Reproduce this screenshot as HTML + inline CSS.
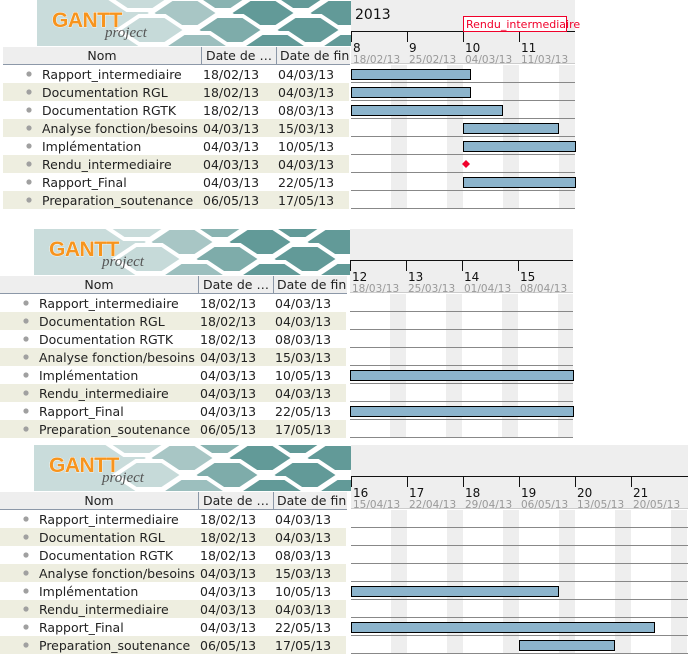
<!DOCTYPE html>
<html><head><meta charset="utf-8"><style>
html,body{margin:0;padding:0;background:#fff;}
svg{display:block;font-family:"DejaVu Sans","Liberation Sans",sans-serif;}
</style></head><body>
<svg id="chart" width="695" height="663" viewBox="0 0 695 663" xmlns="http://www.w3.org/2000/svg">
</svg>
<script>
const taskNames = ["Rapport_intermediaire","Documentation RGL","Documentation RGTK","Analyse fonction/besoins","Implémentation","Rendu_intermediaire","Rapport_Final","Preparation_soutenance"];
const startDates = ["18/02/13","18/02/13","18/02/13","04/03/13","04/03/13","04/03/13","04/03/13","06/05/13"];
const endDates = ["04/03/13","04/03/13","08/03/13","15/03/13","10/05/13","04/03/13","22/05/13","17/05/13"];
const milestones = [false,false,false,false,false,true,false,false];
const panelStarts = ["18/02/13","18/03/13","15/04/13"];
const weekNumbers = [[8,9,10,11],[12,13,14,15],[16,17,18,19,20,21]];
const weekLabels = [["18/02/13","25/02/13","04/03/13","11/03/13"],["18/03/13","25/03/13","01/04/13","08/04/13"],["15/04/13","22/04/13","29/04/13","06/05/13","13/05/13","20/05/13"]];

const NS="http://www.w3.org/2000/svg";
const svg=document.getElementById('chart');
function el(tag,attrs,parent,text){const e=document.createElementNS(NS,tag);for(const k in attrs)e.setAttribute(k,attrs[k]);if(text!==undefined)e.textContent=text;(parent||svg).appendChild(e);return e;}
function parse(s){const p=s.split('/');return Date.UTC(2000+ +p[2],+p[1]-1,+p[0]);}
function mix(a,b,t){const r=[0,1,2].map(i=>Math.round(a[i]+(b[i]-a[i])*t));return 'rgb('+r.join(',')+')';}
const DAY=8;
const panels=[{dy:0,tx:0,logoX:37,cx0:351,cx1:575,year:true},{dy:229,tx:-3,logoX:34,cx0:350,cx1:573},{dy:445,tx:-3,logoX:34,cx0:351,cx1:688}];

panels.forEach((P,pi)=>{
  const g=el('g',{});
  
  
  const dy=P.dy, tx=P.tx;
  const xDay=d=>P.cx0+((parse(d)-parse(panelStarts[pi]))/86400000)*DAY;
  const logo=el('g',{},g);
  
  
  el('rect',{x:P.logoX,y:dy,width:P.cx0-P.logoX,height:46,fill:'#c9dcdb'},logo);
  const clip=el('clipPath',{id:'lc'+pi},logo);
  el('rect',{x:P.logoX,y:dy,width:P.cx0-P.logoX,height:46},clip);
  const hg=el('g',{'clip-path':'url(#lc'+pi+')'},logo);
  const ox=P.logoX-37;
  el('rect',{x:150+ox,y:dy,width:P.cx0-150-ox,height:46,fill:'#fff'},hg);
  for(let r=0;r<4;r++){
    for(let c=0;c<6;c++){
      const cx=140+ox+c*78+(r%2?39:0)+r*6, cy=dy-4+r*17;
      const w=34,hh=14;
      const pts=[[cx-w,cy],[cx-w/2+4,cy-hh],[cx+w/2-4,cy-hh],[cx+w,cy],[cx+w/2-4,cy+hh],[cx-w/2+4,cy+hh]].map(p=>p.join(',')).join(' ');
      const t=Math.max(0,Math.min(1,(cx-150-ox)/110));
      el('polygon',{points:pts,fill:mix([200,219,218],[98,154,152],t),stroke:'#fff','stroke-width':4},hg);
    }
  }
  el('text',{x:P.logoX+15,y:dy+27,'font-size':21,'font-weight':'bold',fill:'#f7941d',stroke:'#fff','stroke-width':0.8,'paint-order':'stroke','font-family':'Liberation Sans, sans-serif','letter-spacing':'-0.5'},logo,'GANTT');
  el('text',{x:P.logoX+68,y:dy+37,'font-size':15,'font-style':'italic',fill:'#555','font-family':'Liberation Serif, serif'},logo,'project');
  const hy=dy+47;
  const hdr=el('g',{},g);
  
  
  el('rect',{x:3+tx,y:hy,width:347,height:17,fill:'#eeeeee'},hdr);
  el('line',{x1:3+tx,x2:350+tx,y1:hy+17.5,y2:hy+17.5,stroke:'#8c98a8'},hdr);
  el('line',{x1:201.5+tx,x2:201.5+tx,y1:hy,y2:hy+17,stroke:'#8c98a8'},hdr);
  el('line',{x1:276.5+tx,x2:276.5+tx,y1:hy,y2:hy+17,stroke:'#8c98a8'},hdr);
  const c1=el('text',{x:102+tx,y:hy+13,'font-size':12.5,'text-anchor':'middle',fill:'#222'},hdr,'Nom');
  
  const c2=el('text',{x:206+tx,y:hy+13,'font-size':12.5,fill:'#222'},hdr,'Date de …');
  
  const c3=el('text',{x:280+tx,y:hy+13,'font-size':12.5,fill:'#222'},hdr,'Date de fin');
  
  el('rect',{x:P.cx0,y:dy,width:P.cx1-P.cx0,height:64,fill:'#eeeeee'},g);
  if(P.year) el('text',{x:P.cx0+4,y:dy+19,'font-size':14,fill:'#111'},g,'2013');
  el('line',{x1:P.cx0,x2:P.cx1,y1:dy+31.5,y2:dy+31.5,stroke:'#111'},g);
  el('line',{x1:P.cx0,x2:P.cx1,y1:dy+63.5,y2:dy+63.5,stroke:'#ccc'},g);
  const rows0=dy+65;
  const nDays=Math.ceil((P.cx1-P.cx0)/DAY);
  for(let d=0;d<nDays;d++){ if(d%7===5){ const x=P.cx0+d*DAY; el('rect',{x:x,y:rows0,width:Math.min(16,P.cx1-x),height:8*18-1,fill:'#eeeeee'},g);} }
  weekNumbers[pi].forEach((w,i)=>{
    const x=xDay(weekLabels[pi][i]);
    el('line',{x1:x+0.5,x2:x+0.5,y1:dy+31,y2:dy+42,stroke:'#111'},g);
    el('text',{x:x+2,y:dy+52,'font-size':12,fill:'#111'},g,String(w));
    el('text',{x:x+2,y:dy+63,'font-size':10.5,fill:'#999'},g,weekLabels[pi][i]);
  });
  taskNames.forEach((n,i)=>{
    const ry=rows0+i*18;
    const row=el('g',{},g);
    
    
    if(i%2===1) el('rect',{x:3+tx,y:ry,width:346,height:18,fill:'#eeeee0'},row);
    el('circle',{cx:29+tx,cy:ry+9,r:2.6,fill:'#a0a0a0'},row);
    el('text',{x:42+tx,y:ry+14,'font-size':12.5,fill:'#222'},row,n);
    el('text',{x:203+tx,y:ry+14,'font-size':12.5,fill:'#222'},row,startDates[i]);
    el('text',{x:278+tx,y:ry+14,'font-size':12.5,fill:'#222'},row,endDates[i]);
    el('line',{x1:P.cx0,x2:P.cx1,y1:ry+17.5,y2:ry+17.5,stroke:'#888'},g);
    let x0=xDay(startDates[i]), x1=xDay(endDates[i])+DAY;
    if(milestones[i]){
      if(x0>=P.cx0&&x0<=P.cx1){
        const cx=x0+3,cy=ry+9;
        const m=el('polygon',{points:`${cx-4},${cy} ${cx},${cy-4} ${cx+4},${cy} ${cx},${cy+4}`,fill:'#f0002a'},g);
        
        
        if(P.year){
          el('rect',{x:x0+0.5,y:dy+16.5,width:103,height:15,fill:'#fff',stroke:'#f0002a'},g);
          el('text',{x:x0+3,y:dy+28,'font-size':11,fill:'#f0002a'},g,n);
        }
      }
    } else {
      const a=Math.max(x0,P.cx0), b=Math.min(x1,P.cx1+1);
      if(b>a){
        const bar=el('rect',{x:a+0.5,y:ry+4.5,width:b-a-1,height:10,fill:'#8cb4cc',stroke:'#000'},g);
        
        
      }
    }
  });
});
</script>
</body></html>
